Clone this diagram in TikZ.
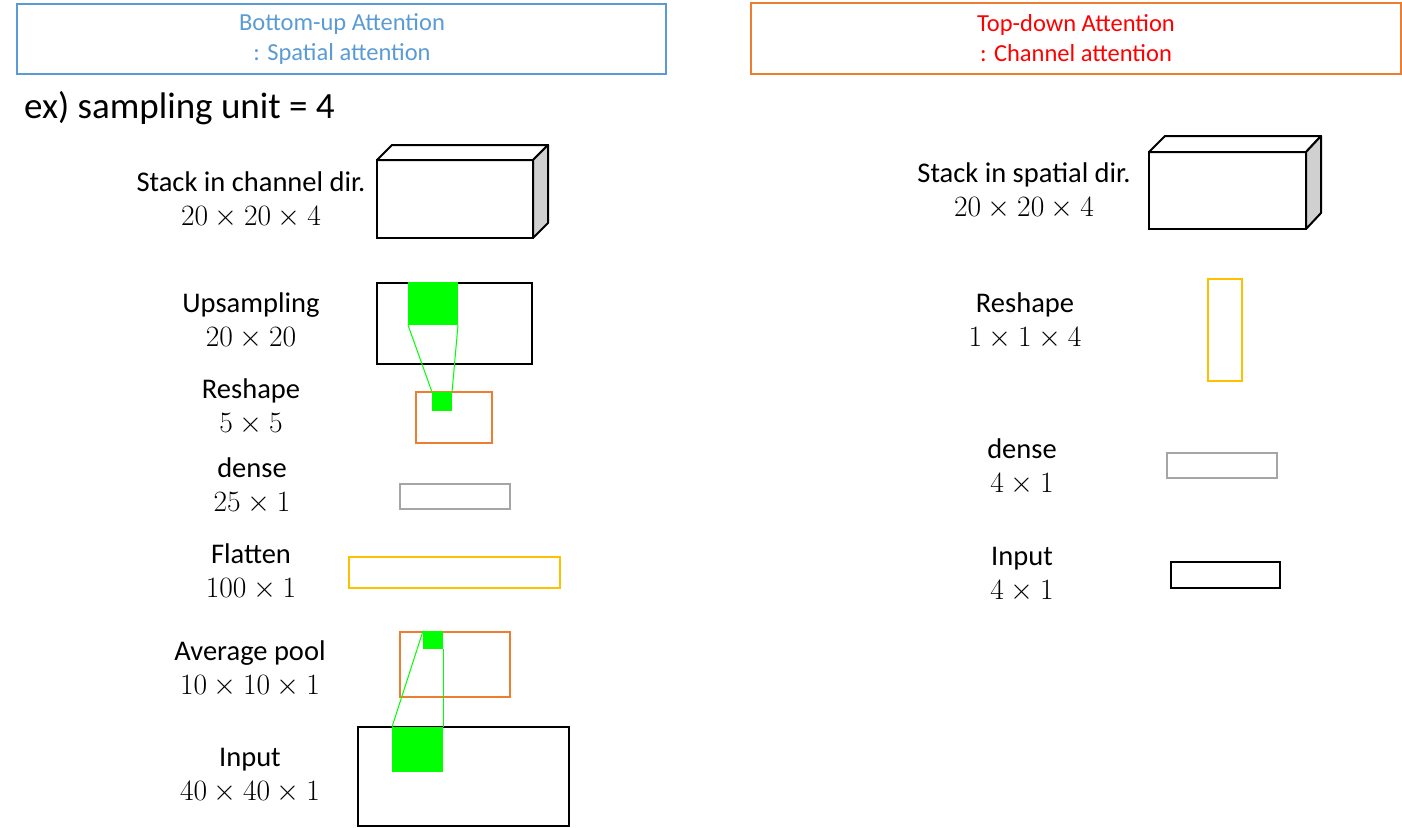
\RequirePackage{fix-cm}
\documentclass[tikz,border=0pt]{standalone}
\usepackage{fontspec}
\setmainfont{Carlito}
\definecolor{hblue}{HTML}{5B9BD5}
\definecolor{horange}{HTML}{ED7D31}
\definecolor{hred}{HTML}{FF0000}
\definecolor{hyellow}{HTML}{FFC000}
\definecolor{hgray}{HTML}{A5A5A5}
\definecolor{hgreen}{HTML}{00FF00}
\definecolor{cubeside}{HTML}{D0D0D0}
\newcommand{\dimtxt}[1]{{\fontsize{29.5}{33}\selectfont$#1$}}
\begin{document}
\begin{tikzpicture}[x=1pt,y=-1pt,
  box/.style={draw, line width=2pt, inner sep=0pt, outer sep=0pt, anchor=north west},
  lbl/.style={font=\fontsize{28.5}{34}\selectfont, align=center, inner sep=0pt},
  hdr/.style={font=\fontsize{24.5}{30}\selectfont, align=center, inner sep=0pt},
  grn/.style={fill=hgreen, inner sep=0pt, outer sep=0pt, anchor=north west},
  gline/.style={draw=hgreen, line width=1pt},
  cube/.style={draw=black, line width=2pt, line join=round}]
\useasboundingbox (0,0) rectangle (1402,827);

% headers
\node[box, draw=hblue, minimum width=649, minimum height=70] (hl) at (17,4) {};
\node[hdr, text=hblue] (hlt) at (342,39) {Bottom-up Attention\\: Spatial attention};
\node[box, draw=horange, minimum width=650, minimum height=71] (hr) at (751,3) {};
\node[hdr, text=hred] (hrt) at (1076,38) {Top-down Attention\\: Channel attention};

\node[anchor=base west, inner sep=0pt, font=\fontsize{37}{44}\selectfont] (ex) at (24,118) {ex) sampling unit = 4};

% left cube
\draw[cube, fill=white] (377,160) -- (392,145) -- (548,145) -- (533,160) -- cycle;
\draw[cube, fill=cubeside] (533,160) -- (548,145) -- (548,223) -- (533,238) -- cycle;
\node[box, minimum width=156, minimum height=78] (lcube) at (377,160) {};

% right cube
\draw[cube, fill=white] (1149,152) -- (1165,136) -- (1321,136) -- (1306,152) -- cycle;
\draw[cube, fill=cubeside] (1306,152) -- (1321,136) -- (1321,213) -- (1306,229) -- cycle;
\node[box, minimum width=157, minimum height=77] (rcube) at (1149,152) {};

% left column boxes
\node[box, minimum width=155, minimum height=81] (up) at (377,283) {};
\node[box, draw=horange, minimum width=76, minimum height=51] (rs) at (416,392) {};
\node[box, draw=hgray, line width=1.5pt, minimum width=110, minimum height=25] (dn) at (400,484) {};
\node[box, draw=hyellow, minimum width=211, minimum height=31] (fl) at (349,557) {};
\node[box, draw=horange, minimum width=110, minimum height=65] (ap) at (400,632) {};
\node[box, minimum width=211, minimum height=99] (in) at (358,727) {};

% green patches
\node[grn, minimum width=50, minimum height=43] (g1) at (408,282) {};
\node[grn, minimum width=20, minimum height=19] (g2) at (432,392) {};
\node[grn, minimum width=20, minimum height=18] (g3) at (423,631) {};
\node[grn, minimum width=51, minimum height=45] (g4) at (392,727) {};
\draw[gline] (g1.south west) -- (g2.north west);
\draw[gline] (g1.south east) -- (g2.north east);
\draw[gline] (g3.north west) -- (g4.north west);
\draw[gline] (g3.south east) -- (g4.north east);

% right column boxes
\node[box, draw=hyellow, minimum width=34, minimum height=102] (rrs) at (1208,279) {};
\node[box, draw=hgray, line width=1.5pt, minimum width=110, minimum height=25] (rdn) at (1167,453) {};
\node[box, minimum width=109, minimum height=26] (rin) at (1171,562) {};

% left labels
\node[lbl] (l1) at (251,200) {Stack in channel dir.\\\dimtxt{20\times20\times4}};
\node[lbl] (l2) at (251,321) {Upsampling\\\dimtxt{20\times20}};
\node[lbl] (l3) at (251,407) {Reshape\\\dimtxt{5\times5}};
\node[lbl] (l4) at (252,486) {dense\\\dimtxt{25\times1}};
\node[lbl] (l5) at (251,572) {Flatten\\\dimtxt{100\times1}};
\node[lbl] (l6) at (250,669) {Average pool\\\dimtxt{10\times10\times1}};
\node[lbl] (l7) at (250,776) {Input\\\dimtxt{40\times40\times1}};

% right labels
\node[lbl] (r1) at (1024,191) {Stack in spatial dir.\\\dimtxt{20\times20\times4}};
\node[lbl] (r2) at (1025,321) {Reshape\\\dimtxt{1\times1\times4}};
\node[lbl] (r3) at (1022,467) {dense\\\dimtxt{4\times1}};
\node[lbl] (r4) at (1022,575) {Input\\\dimtxt{4\times1}};
\end{tikzpicture}
\end{document}
